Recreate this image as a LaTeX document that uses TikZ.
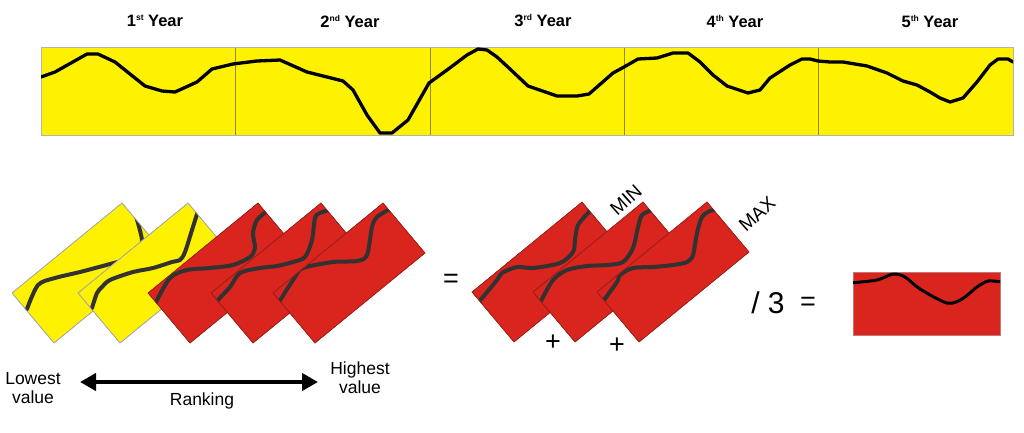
\documentclass[tikz,border=0pt]{standalone}
\usepackage{fontspec}
\setmainfont{Liberation Sans}
\usetikzlibrary{arrows.meta}
\definecolor{yel}{RGB}{255,242,0}
\definecolor{redf}{RGB}{217,37,29}
\definecolor{redb}{RGB}{150,30,25}
\definecolor{curvec}{RGB}{50,50,50}
\newcommand\sps[1]{\raisebox{6pt}{\fontsize{8.5}{9}\selectfont\bfseries #1}}
\tikzset{
  yrect/.style={fill=yel, draw=gray!70, line width=0.6pt},
  rrect/.style={fill=redf, draw=redb, line width=0.5pt},
  rcurve/.style={curvec, line width=4pt, line cap=round, line join=round},
  tcurve/.style={black, line width=3.3pt, line join=round, line cap=round},
  title/.style={font=\fontsize{16.5}{19}\selectfont\bfseries},
  lab/.style={font=\fontsize{17.5}{19}\selectfont, align=center},
  rotlab/.style={font=\fontsize{19}{21}\selectfont, rotate=42, inner sep=0pt},
  bigsym/.style={font=\fontsize{27}{30}\selectfont},
}
\newcommand\rankrect[4]{%
  \begin{scope}[shift={(#1,#2)}]
    \fill[#3] (0,0)--(110,-90)--(152,-40)--(42,50)--cycle;
    \begin{scope}
      \clip (0,0)--(110,-90)--(152,-40)--(42,50)--cycle;
      \draw[rcurve] plot[smooth, tension=0.5] coordinates {#4};
    \end{scope}
    \draw[#3, fill=none] (0,0)--(110,-90)--(152,-40)--(42,50)--cycle;
  \end{scope}}
\begin{document}
\begin{tikzpicture}[x=1pt,y=-1pt]
\useasboundingbox (0,0) rectangle (1024,432);
% titles
\node[title] (t1) at (155,21) {1\sps{st} Year};
\node[title] (t2) at (350,21) {2\sps{nd} Year};
\node[title] (t3) at (543,21) {3\sps{rd} Year};
\node[title] (t4) at (735,21) {4\sps{th} Year};
\node[title] (t5) at (930,21) {5\sps{th} Year};
% top panel
\fill[yel] (41,47) rectangle (1013,135);
\foreach \xx in {235,430,624,818} \draw[olive!70!gray, line width=0.6pt] (\xx,47) -- (\xx,135);
\draw[gray!60, line width=0.6pt] (41,47) rectangle (1013,135);
\begin{scope}
\clip (41,47) rectangle (1013,135);
\draw[tcurve] (41,77) -- (55,72) -- (87,54) -- (98,54) -- (115,62) -- (145,86) -- (162,91) -- (175,92) -- (197,82) -- (212,69) -- (233,64) -- (257,61) -- (280,60) -- (307,72) -- (343,81) -- (353,90) -- (367,115) -- (380,133) -- (392,133) -- (408,120) -- (429,83) -- (447,70) -- (467,55) -- (478,49) -- (487,50) -- (497,57) -- (510,69) -- (528,86) -- (557,96) -- (577,96) -- (589,94) -- (613,73) -- (624,67) -- (638,59) -- (657,58) -- (673,53) -- (688,53) -- (700,62) -- (713,75) -- (727,86) -- (748,93) -- (760,90) -- (770,78) -- (790,65) -- (802,59) -- (810,59) -- (818,61) -- (830,62) -- (843,62) -- (867,66) -- (887,73) -- (903,81) -- (917,85) -- (930,92) -- (940,98) -- (950,102) -- (963,98) -- (977,82) -- (990,65) -- (998,59) -- (1008,59) -- (1013,62);
\end{scope}
% ranking group
\rankrect{12}{293}{yrect}{(15,16) (26,-8) (43,-15) (68,-21) (98,-29) (118,-35) (128,-45) (130,-53) (126,-70) (122,-82)}
\rankrect{78}{293}{yrect}{(14,15) (19,0) (24,-6) (32,-13) (55,-21) (75,-25) (94,-31) (102,-33) (107,-41) (114,-63) (120,-82)}
\rankrect{148}{293}{rrect}{(8,9) (22,-15) (39,-23) (62,-25) (85,-28) (102,-36) (107,-45) (105,-60) (109,-73) (119,-82)}
\rankrect{211}{293}{rrect}{(5,9) (19,-6) (29,-20) (49,-25) (66,-27) (82,-31) (94,-36) (101,-53) (104,-75) (109,-80) (118,-83)}
\rankrect{273}{293}{rrect}{(6,9) (22,-16) (30,-25) (60,-31) (84,-32) (94,-38) (99,-66) (104,-76) (117,-84)}
% equals
\node[bigsym] (eq1) at (451,281) {=};
% selected group
\rankrect{472}{292}{rrect}{(6,11) (25,-12) (30,-19) (45,-25) (61,-24) (88,-29) (101,-40) (103,-52) (106,-67) (118,-81)}
\rankrect{533}{292}{rrect}{(8,9) (20,-12) (34,-22) (54,-26) (74,-27) (90,-30) (100,-44) (105,-65) (109,-77) (119,-82)}
\rankrect{597}{292}{rrect}{(7,8) (20,-10) (23,-17) (36,-24) (56,-25) (76,-27) (90,-30) (96,-37) (100,-59) (105,-75) (113,-81) (120,-82)}
\node[rotlab] (min) at (626,200) {MIN};
\node[rotlab] (max) at (757,214) {MAX};
\node[bigsym] (p1) at (553,343) {+};
\node[bigsym] (p2) at (617,346) {+};
\node[bigsym, font=\fontsize{30}{32}\selectfont] (div) at (768,303) {/ 3};
\node[bigsym] (eq2) at (808,304) {=};
% result
\fill[redf] (853,272) rectangle (1000,335);
\draw[redb!60, line width=0.4pt] (853,272) rectangle (1000,335);
\begin{scope}
\clip (853,272) rectangle (1000,335);
\draw[black, line width=3pt, line join=round] plot[smooth, tension=0.5] coordinates {(850,283) (877,280) (893,274) (905,277) (920,289) (947,303) (962,299) (977,287) (988,281) (1001,282)};
\end{scope}
% bottom labels
\node[lab] (low) at (33,388) {Lowest\\value};
\node[lab] (high) at (360,378) {Highest\\value};
\node[lab] (rank) at (202,401) {Ranking};
\coordinate (aL) at (80,382);
\coordinate (aR) at (318,382);
\draw[line width=4pt, {Triangle[length=16pt,width=17pt]}-{Triangle[length=16pt,width=17pt]}] (aL) -- (aR);
\end{tikzpicture}
\end{document}
